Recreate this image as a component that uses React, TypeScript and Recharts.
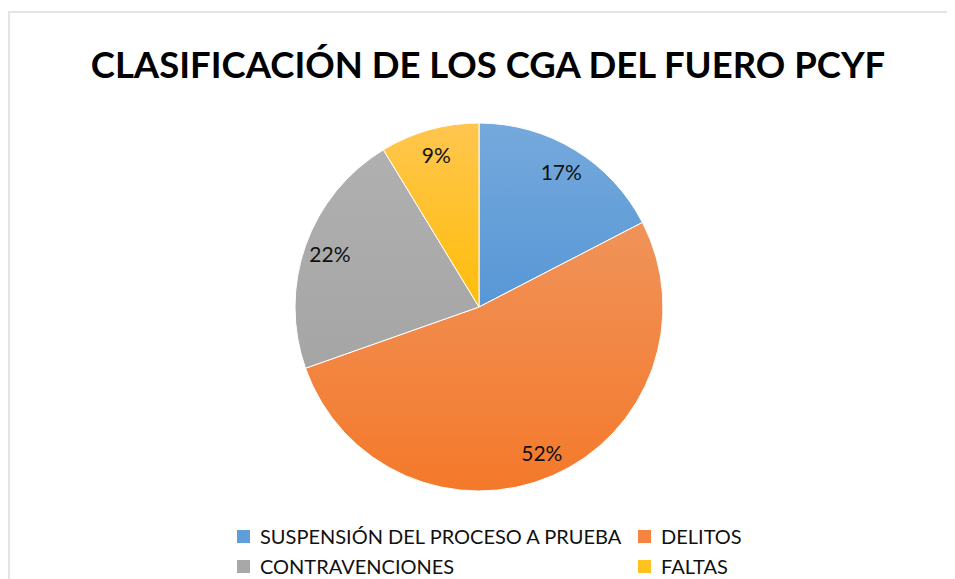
import React from "react";
import { PieChart, Pie, Cell } from "recharts";

const categories = [
  "SUSPENSIÓN DEL PROCESO A PRUEBA",
  "DELITOS",
  "CONTRAVENCIONES",
  "FALTAS",
];
const values = [17.4, 52.2, 21.7, 8.7];
const topColors = ["#75a9dc", "#f0935a", "#b0b0b0", "#ffc64f"];
const bottomColors = ["#5797d6", "#f4792a", "#a5a5a5", "#ffbd0a"];
const legendColors = ["#5f9ed9", "#f4843e", "#a8a8a8", "#ffc21e"];

const data = categories.map((name, i) => ({ name, value: values[i] }));

const FONT = "Lato, 'Open Sans', sans-serif";
const RADIAN = Math.PI / 180;

const renderLabel = (props: any) => {
  const { cx, cy, midAngle, outerRadius, percent } = props;
  const r = outerRadius * 0.86;
  const x = cx + r * Math.cos(-midAngle * RADIAN);
  const y = cy + r * Math.sin(-midAngle * RADIAN);
  return (
    <text
      x={x}
      y={y}
      fill="#111"
      textAnchor="middle"
      dominantBaseline="central"
      fontFamily={FONT}
      fontSize={21}
    >
      {`${Math.round(percent * 100)}%`}
    </text>
  );
};

export default function App() {
  return (
    <div style={{ width: 947, height: 571, overflow: "hidden", position: "relative" }}>
      <div
        style={{
          position: "absolute",
          left: 0,
          top: 3,
          width: 1000,
          height: 700,
          borderLeft: "2px solid #e1e5ea",
          borderTop: "2px solid #e1e5ea",
        }}
      />
      <div
        style={{
          position: "absolute",
          left: 0,
          top: 34,
          width: 960,
          textAlign: "center",
          fontFamily: FONT,
          fontWeight: 700,
          fontSize: 36.5,
          color: "#000",
          lineHeight: "44px",
          whiteSpace: "nowrap",
        }}
      >
        CLASIFICACIÓN DE LOS CGA DEL FUERO PCYF
      </div>
      <div style={{ position: "absolute", left: 0, top: 0 }}>
        <PieChart width={947} height={571} margin={{ top: 0, right: 0, bottom: 0, left: 0 }}>
          <defs>
            {categories.map((c, i) => (
              <linearGradient key={c} id={`g${i}`} x1="0" y1="0" x2="0" y2="1">
                <stop offset="0%" stopColor={topColors[i]} />
                <stop offset="100%" stopColor={bottomColors[i]} />
              </linearGradient>
            ))}
          </defs>
          <Pie
            data={data}
            dataKey="value"
            nameKey="name"
            cx={471}
            cy={299}
            outerRadius={184}
            startAngle={90}
            endAngle={-270}
            stroke="#ffffff"
            strokeWidth={1}
            label={renderLabel}
            labelLine={false}
            isAnimationActive={false}
          >
            {data.map((d, i) => (
              <Cell key={d.name} fill={`url(#g${i})`} />
            ))}
          </Pie>
        </PieChart>
      </div>
      <div
        style={{
          position: "absolute",
          left: 229,
          top: 515,
          display: "grid",
          gridTemplateColumns: "401px 140px",
          rowGap: 4,
          fontFamily: FONT,
          fontSize: 20,
          color: "#111",
        }}
      >
        {categories.map((c, i) => (
          <div key={c} style={{ display: "flex", alignItems: "center", height: 26, whiteSpace: "nowrap" }}>
            <span
              style={{
                display: "inline-block",
                width: 13,
                height: 13,
                background: legendColors[i],
                marginRight: 10,
              }}
            />
            <span>{c}</span>
          </div>
        ))}
      </div>
    </div>
  );
}
